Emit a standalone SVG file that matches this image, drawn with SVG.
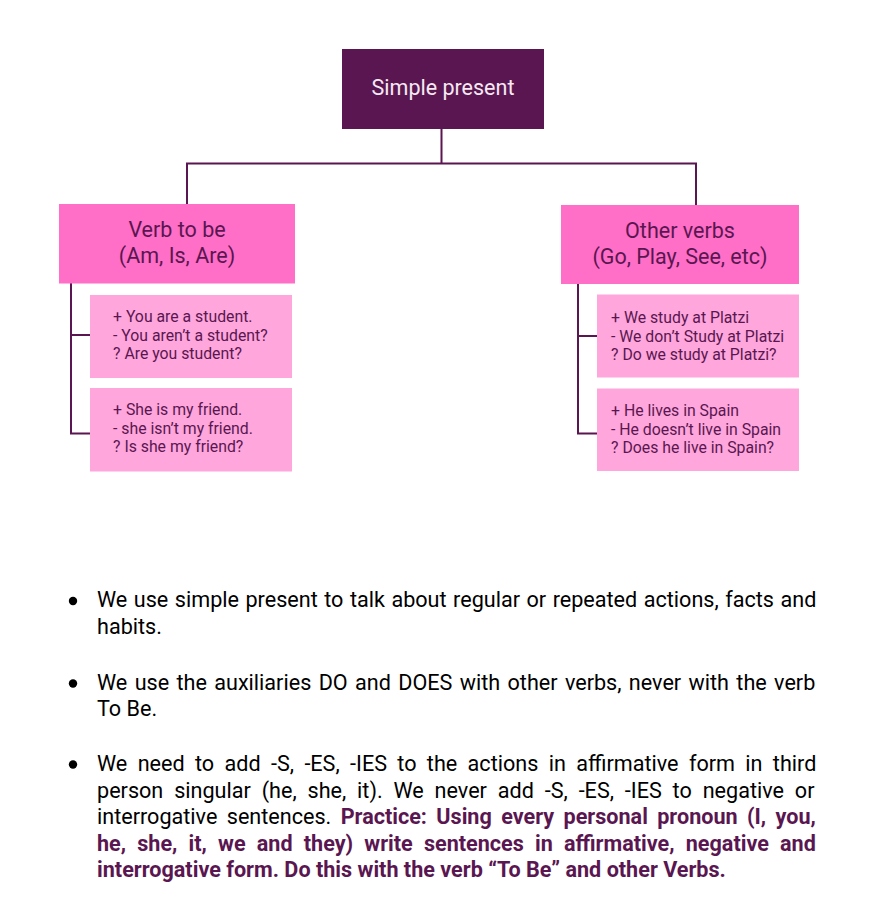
<svg xmlns="http://www.w3.org/2000/svg" width="869" height="897" viewBox="0 0 869 897">
<style>
.lbl{font-family:Roboto,"Liberation Sans",sans-serif;fill:#5a1651}
.mid{font-size:21.5px;text-anchor:middle}
.sub{font-size:15.8px}
.conn{fill:none;stroke:#5a1651;stroke-width:2}
.body{font-family:Roboto,"Liberation Sans",sans-serif;font-size:21.6px;fill:#000}
.b{font-weight:bold;fill:#5a1651}
</style>
<rect width="869" height="897" fill="#fff"/>
<g id="connectors">
<path class="conn" d="M441.5 129V163.5H187V205M441.5 163.5H696V205"/>
<path class="conn" d="M71 283V433.5H91M71 335H91"/>
<path class="conn" d="M578 284V433.5H598M578 336H598"/>
</g>
<g id="root">
<rect x="342" y="49" width="202" height="80" fill="#5a1651"/>
<text x="443" y="95" font-family="Roboto,'Liberation Sans',sans-serif" font-size="21.5" fill="#f5e9f2" text-anchor="middle">Simple present</text>
</g>
<g id="verb-to-be">
<rect x="59" y="204" width="236" height="79.5" fill="#ff6ec7"/>
<text class="lbl mid" x="177" y="237">Verb to be</text>
<text class="lbl mid" x="177" y="263">(Am, Is, Are)</text>
</g>
<g id="other-verbs">
<rect x="561" y="205" width="238" height="79" fill="#ff6ec7"/>
<text class="lbl mid" x="680" y="238">Other verbs</text>
<text class="lbl mid" x="680" y="264">(Go, Play, See, etc)</text>
</g>
<g id="tobe-ex1">
<rect x="90" y="295" width="202" height="83" fill="#ffa6dc"/>
<text class="lbl sub" x="113" y="322">+ You are a student.</text>
<text class="lbl sub" x="113" y="340.5">- You aren’t a student?</text>
<text class="lbl sub" x="113" y="359">? Are you student?</text>
</g>
<g id="tobe-ex2">
<rect x="90" y="388" width="202" height="83.5" fill="#ffa6dc"/>
<text class="lbl sub" x="113" y="415">+ She is my friend.</text>
<text class="lbl sub" x="113" y="433.5">- she isn’t my friend.</text>
<text class="lbl sub" x="113" y="452">? Is she my friend?</text>
</g>
<g id="other-ex1">
<rect x="597" y="294.5" width="202" height="83" fill="#ffa6dc"/>
<text class="lbl sub" x="611" y="323">+ We study at Platzi</text>
<text class="lbl sub" x="611" y="341.5">- We don’t Study at Platzi</text>
<text class="lbl sub" x="611" y="360">? Do we study at Platzi?</text>
</g>
<g id="other-ex2">
<rect x="597" y="388.5" width="202" height="82.5" fill="#ffa6dc"/>
<text class="lbl sub" x="611" y="416">+ He lives in Spain</text>
<text class="lbl sub" x="611" y="434.5">- He doesn’t live in Spain</text>
<text class="lbl sub" x="611" y="453">? Does he live  in Spain?</text>
</g>
<g id="notes">
<circle cx="73" cy="601" r="4.2" fill="#000"/>
<circle cx="73" cy="683.5" r="4.2" fill="#000"/>
<circle cx="73" cy="764.5" r="4.2" fill="#000"/>
<text class="body" x="97" y="607" word-spacing="1.15">We use simple present to talk about regular or repeated actions, facts and</text>
<text class="body" x="97" y="633.5">habits.</text>
<text class="body" x="97" y="689.5" word-spacing="2">We use the auxiliaries DO and DOES with other verbs, never with the verb</text>
<text class="body" x="97" y="716">To Be.</text>
<text class="body" x="97" y="771" word-spacing="5">We need to add -S, -ES, -IES to the actions in affirmative form in third</text>
<text class="body" x="97" y="797.5" word-spacing="5.5">person singular (he, she, it). We never add -S, -ES, -IES to negative or</text>
<text class="body" x="97" y="824" word-spacing="4">interrogative sentences. <tspan class="b">Practice: Using every personal pronoun (I, you,</tspan></text>
<text class="body b" x="97" y="850.5" word-spacing="5.8">he, she, it, we and they) write sentences in affirmative, negative and</text>
<text class="body b" x="97" y="877">interrogative form. Do this with the verb “To Be” and other Verbs.</text>
</g>
</svg>
